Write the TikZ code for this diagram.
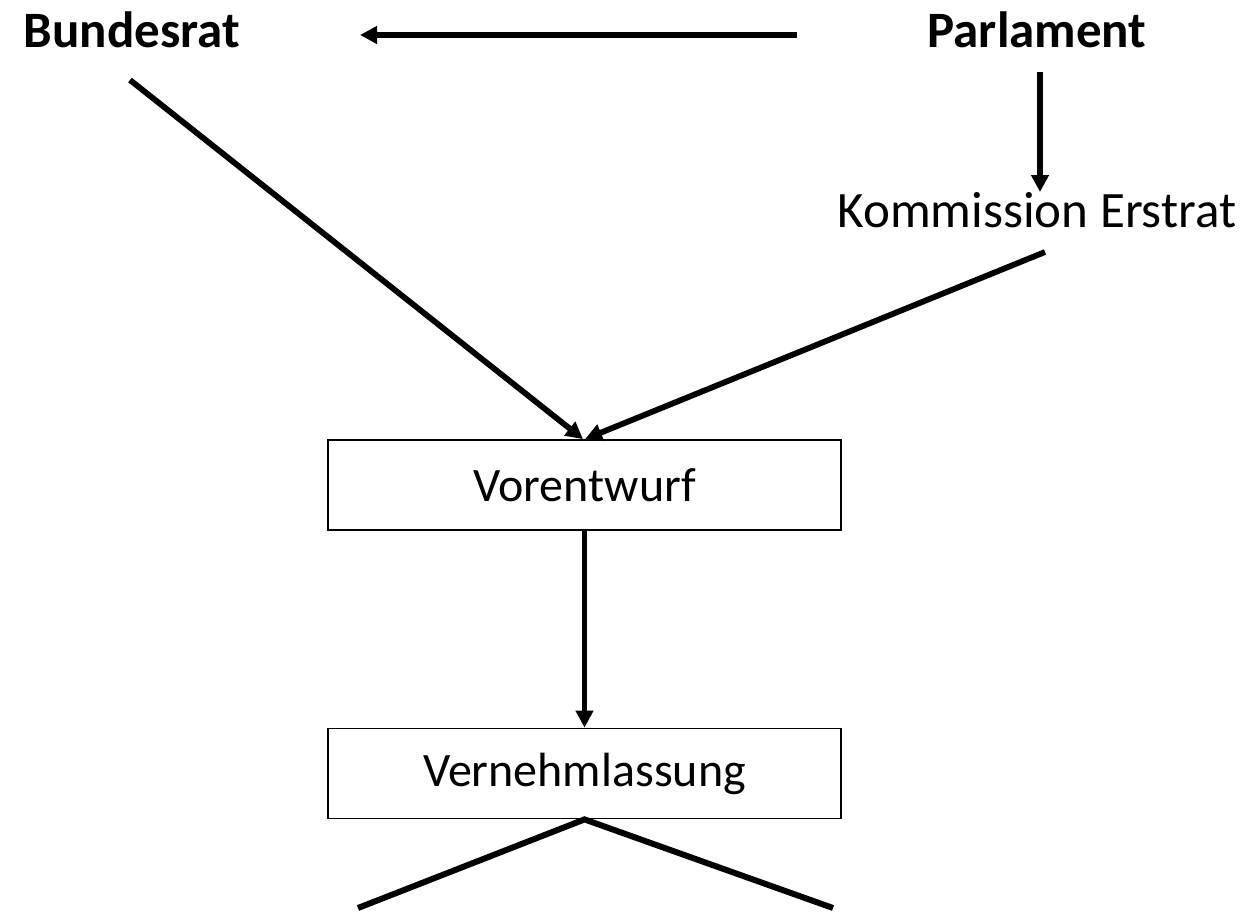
\documentclass[tikz,border=0pt]{standalone}
\usepackage{fontspec}
\setmainfont{Carlito}
\usetikzlibrary{arrows.meta}
\begin{document}
\begin{tikzpicture}[x=1pt,y=-1pt,
  conn/.style={line width=5.8pt,-{Triangle[length=17pt,width=17pt]}},
  plain/.style={line width=6pt},
  head/.style={font=\bfseries\fontsize{51}{60}\selectfont,inner sep=0pt},
  lbl/.style={font=\fontsize{51}{60}\selectfont,inner sep=0pt},
  box/.style={draw,line width=1.8pt,minimum width=513pt,minimum height=90pt,font=\fontsize{48}{56}\selectfont,inner sep=0pt}]
\useasboundingbox (0,0) rectangle (1253,913);
\node[head] (bund) at (132,30) {Bundesrat};
\node[head] (parl) at (1037,30) {Parlament};
\node[lbl] (komm) at (1037,210) {Kommission Erstrat};
\node[box] (vor) at (584.5,485) {Vorentwurf};
\node[box] (vern) at (584.5,773.5) {Vernehmlassung};
\coordinate (hs) at (797,35);
\coordinate (he) at (360,35);
\draw[conn] (hs) -- (he);
\coordinate (ps) at (1040,72);
\coordinate (pe) at (1040,192);
\draw[conn] (ps) -- (pe);
\coordinate (bs) at (130,80);
\coordinate (ks) at (1045,252);
\draw[conn] (bs) -- (vor.north -| 583,0);
\draw[conn] (ks) -- (vor.north -| 585,0);
\draw[conn] (vor.south) -- (vern.north);
\coordinate (l) at (358,908);
\coordinate (r) at (833,908);
\draw[plain] (l) -- (vern.south) -- (r);
\end{tikzpicture}
\end{document}
